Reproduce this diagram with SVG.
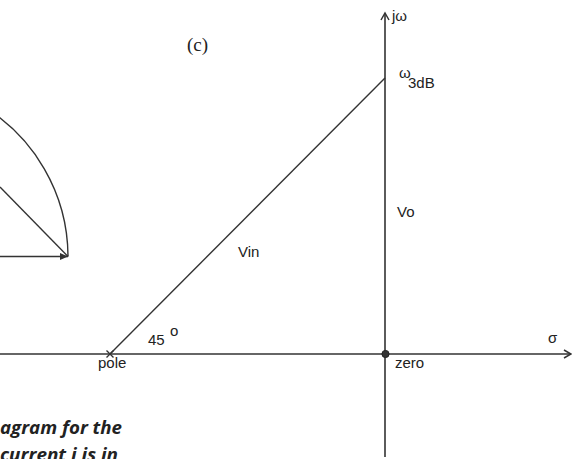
<svg xmlns="http://www.w3.org/2000/svg" width="572" height="459" viewBox="0 0 572 459">
<style>
.ln{stroke:#333;stroke-width:1.4;fill:none}
.ax{stroke:#333;stroke-width:1.6;fill:none}
.lb{font-family:"Liberation Sans",Arial,sans-serif;font-size:15px;fill:#222}
.cap{font-family:"Open Sans","Noto Sans",sans-serif;font-size:18px;font-weight:700;font-style:italic;fill:#222}
</style>
<defs>
<marker id="open" markerWidth="12" markerHeight="12" refX="10" refY="6" orient="auto" markerUnits="userSpaceOnUse">
<polyline points="3,2 10,6 3,10" fill="none" stroke="#333" stroke-width="1.5"/>
</marker>
<marker id="solid" markerWidth="10" markerHeight="10" refX="9" refY="5" orient="auto" markerUnits="userSpaceOnUse">
<polygon points="1,1.5 9,5 1,8.5" fill="#333"/>
</marker>
</defs>
<g id="connectors">
<line id="sigma-axis" class="ax" x1="0" y1="354" x2="571" y2="354" marker-end="url(#open)"/>
<line id="jw-axis" class="ax" x1="385" y1="457" x2="385" y2="13" marker-end="url(#open)"/>
<line id="vin-line" class="ln" x1="110" y1="354" x2="385" y2="78"/>
<line id="left-horizontal" class="ln" x1="0" y1="256.5" x2="68" y2="256.5" marker-end="url(#solid)"/>
<line id="left-diagonal" class="ln" x1="0" y1="187" x2="68" y2="256.5"/>
<path id="left-arc" class="ln" d="M -20 104.6 A 176 176 0 0 1 68 256.5"/>
</g>
<g id="pole">
<path class="ln" d="M 106.5 350.5 L 113.5 357.5 M 113.5 350.5 L 106.5 357.5"/>
<text class="lb" x="98" y="368">pole</text>
</g>
<g id="zero">
<circle cx="385.5" cy="354" r="3.6" fill="#333" stroke="#222" stroke-width="1"/>
<text class="lb" x="395" y="368">zero</text>
</g>
<g id="w3db">
<text class="lb" x="399" y="78" font-size="11">ω</text>
<text class="lb" x="408" y="88" font-size="16">3dB</text>
</g>
<g id="labels">
<text class="lb" x="392" y="21" font-size="13">jω</text>
<text class="lb" x="548" y="343">σ</text>
<text class="lb" x="238" y="257">Vin</text>
<text class="lb" x="397" y="217">Vo</text>
<text class="lb" x="148" y="345">45</text>
<text class="lb" x="170" y="336" font-size="12">o</text>
<text x="187" y="51" font-family="'Liberation Serif','Times New Roman',serif" font-size="19" fill="#222">(c)</text>
</g>
<g id="caption">
<text class="cap" x="0" y="434" textLength="122" lengthAdjust="spacingAndGlyphs">agram for the</text>
<text class="cap" x="0" y="461" textLength="118" lengthAdjust="spacingAndGlyphs">current i is in</text>
</g>
</svg>
